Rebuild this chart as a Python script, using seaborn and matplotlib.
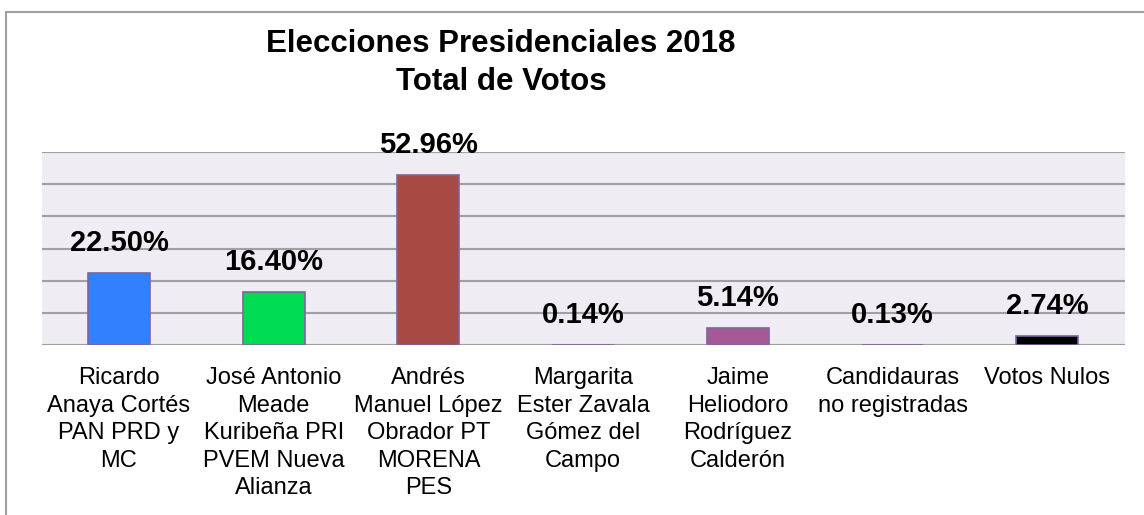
import matplotlib
matplotlib.use('Agg')
import matplotlib.pyplot as plt
import seaborn as sns
import pandas as pd
from matplotlib.patches import Rectangle

# datos
candidatos = [
    'Ricardo\nAnaya Cortés\nPAN PRD y\nMC',
    'José Antonio\nMeade\nKuribeña PRI\nPVEM Nueva\nAlianza',
    'Andrés\nManuel López\nObrador PT\nMORENA\nPES',
    'Margarita\nEster Zavala\nGómez del\nCampo',
    'Jaime\nHeliodoro\nRodríguez\nCalderón',
    'Candidauras\nno registradas',
    'Votos Nulos',
]
porcentajes = [22.50, 16.40, 52.96, 0.14, 5.14, 0.13, 2.74]
etiquetas = ['22.50%', '16.40%', '52.96%', '0.14%', '5.14%', '0.13%', '2.74%']
colores = ['#3380FF', '#00DD55', '#A84A44', '#9B8FB0', '#A55A95', '#9B8FB0', '#000000']

sns.set_style('white')
plt.rcParams['font.family'] = ['Liberation Sans', 'DejaVu Sans']
plt.rcParams['text.color'] = 'black'
plt.rcParams['xtick.color'] = 'black'

df = pd.DataFrame({'candidato': candidatos, 'pct': porcentajes})

fig = plt.figure(figsize=(11.44, 5.15), dpi=100)
ax = fig.add_axes([41.6 / 1144, 170 / 515, 1083 / 1144, 193 / 515])
ax.set_facecolor('#EFEDF3')

sns.barplot(data=df, x='candidato', y='pct', hue='candidato', palette=colores,
            saturation=1, legend=False, width=0.4, edgecolor='#7E649E',
            linewidth=1.2, ax=ax, zorder=3)

ax.set_ylim(0, 60)
ax.set_xlim(-0.5, len(candidatos) - 0.5)
ax.set_yticks(range(0, 61, 10))
ax.yaxis.grid(True, color='#A0A0A0', linewidth=1.5, zorder=0)
ax.set_axisbelow(True)
ax.tick_params(axis='y', left=False, labelleft=False)
ax.tick_params(axis='x', length=0, pad=16, labelsize=17, labelcolor='black')
for lbl in ax.get_xticklabels():
    lbl.set_linespacing(1.32)
for s in ax.spines.values():
    s.set_visible(False)
ax.set_xlabel('')
ax.set_ylabel('')

for i, (v, t) in enumerate(zip(porcentajes, etiquetas)):
    ax.annotate(t, (i, v), xytext=(0, 21.6), textcoords='offset points',
                ha='center', va='center', fontsize=21, fontweight='bold',
                color='black')

fig.text(501 / 1144, 1 - 63 / 515, 'Elecciones Presidenciales 2018\nTotal de Votos',
         ha='center', va='center', fontsize=22.5, fontweight='bold',
         linespacing=1.32, color='black')

fig.patches.append(Rectangle((6 / 1144, -0.1), 1.2, 1 - 12 / 515 + 0.1,
                             transform=fig.transFigure, fill=False,
                             edgecolor='#A0A0A0', linewidth=1.5))

fig.savefig('out.png', dpi=100)
